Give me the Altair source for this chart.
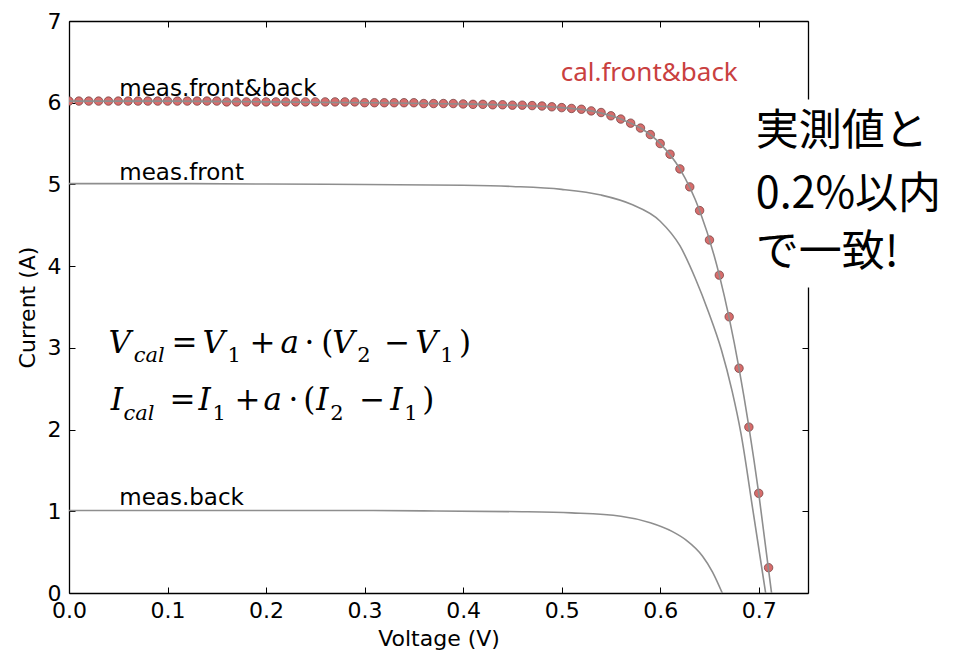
import altair as alt
import pandas as pd

# ---------------- data ----------------
cal_v = [0.00, 0.01, 0.02, 0.03, 0.04, 0.05, 0.06, 0.07, 0.08, 0.09,
         0.10, 0.11, 0.12, 0.13, 0.14, 0.15, 0.16, 0.17, 0.18, 0.19,
         0.20, 0.21, 0.22, 0.23, 0.24, 0.25, 0.26, 0.27, 0.28, 0.29,
         0.30, 0.31, 0.32, 0.33, 0.34, 0.35, 0.36, 0.37, 0.38, 0.39,
         0.40, 0.41, 0.42, 0.43, 0.44, 0.45, 0.46, 0.47, 0.48, 0.49,
         0.50, 0.51, 0.52, 0.53, 0.54, 0.55, 0.56, 0.57, 0.58, 0.59,
         0.60, 0.61, 0.62, 0.63, 0.64, 0.65, 0.66, 0.67, 0.68, 0.69,
         0.70, 0.71]
cal_i = [6.02, 6.02, 6.02, 6.02, 6.02, 6.02, 6.02, 6.02, 6.02, 6.02,
         6.02, 6.02, 6.02, 6.02, 6.02, 6.02, 6.01, 6.01, 6.01, 6.01,
         6.01, 6.01, 6.01, 6.01, 6.01, 6.01, 6.01, 6.01, 6.01, 6.01,
         6.00, 6.00, 6.00, 6.00, 6.00, 6.00, 5.99, 5.99, 5.99, 5.99,
         5.985, 5.98, 5.98, 5.975, 5.975, 5.97, 5.97, 5.965, 5.96, 5.95,
         5.94, 5.93, 5.92, 5.90, 5.88, 5.84, 5.80, 5.75, 5.69, 5.61,
         5.50, 5.37, 5.19, 4.97, 4.68, 4.32, 3.89, 3.38, 2.75, 2.03,
         1.22, 0.31]

fb_v = [0.0, 0.1, 0.2, 0.3, 0.4, 0.45, 0.5, 0.53, 0.56, 0.58, 0.60, 0.62,
        0.64, 0.66, 0.68, 0.70, 0.713]
fb_i = [6.02, 6.02, 6.01, 6.00, 5.985, 5.97, 5.94, 5.90, 5.80, 5.69, 5.50,
        5.19, 4.68, 3.89, 2.75, 1.22, 0.0]

front_v = [0.0, 0.1, 0.2, 0.3, 0.4, 0.45, 0.5, 0.54, 0.57, 0.60, 0.62,
           0.636, 0.649, 0.662, 0.673, 0.682, 0.694, 0.707]
front_i = [5.01, 5.01, 5.005, 5.0, 4.99, 4.975, 4.94, 4.87, 4.76, 4.55,
           4.25, 3.84, 3.44, 2.98, 2.47, 1.95, 1.02, 0.0]

back_v = [0.0, 0.1, 0.2, 0.3, 0.36, 0.46, 0.51, 0.56, 0.59, 0.612, 0.626,
          0.643, 0.653, 0.663]
back_i = [1.01, 1.01, 1.01, 1.01, 1.005, 0.995, 0.98, 0.94, 0.86, 0.754,
          0.65, 0.45, 0.26, 0.0]

x_ticks = [0.0, 0.1, 0.2, 0.3, 0.4, 0.5, 0.6, 0.7]
y_ticks = [0, 1, 2, 3, 4, 5, 6, 7]

meas_text = ["meas.front&back", "meas.front", "meas.back"]
meas_v = [0.051, 0.051, 0.051]
meas_i = [6.08, 5.06, 1.08]

cal_text = ["cal.front&back"]
cal_tv = [0.499]
cal_ti = [6.27]

jp_text = ["実測値と", "0.2%以内", "で一致!"]
jp_v = [0.697, 0.697, 0.697]
jp_i = [5.64, 4.87, 4.16]

# equation pieces: text, x (V), y (A), kind (m=main, s=subscript; i=italic, u=upright, c=centred dot)
eq_text = ["V", "cal", "=", "V", "1", "+", "a", "·", "(", "V", "2", "−", "V", "1", ")",
           "I", "cal", "=", "I", "1", "+", "a", "·", "(", "I", "2", "−", "I", "1", ")"]
eq_v = [0.0402, 0.0656, 0.1041, 0.1355, 0.1608, 0.1831, 0.2146, 0.2439, 0.2561, 0.2672,
        0.2926, 0.3199, 0.3514, 0.3767, 0.3959,
        0.0423, 0.0554, 0.1021, 0.1314, 0.1456, 0.1680, 0.1973, 0.2277, 0.2378, 0.2510,
        0.2652, 0.2946, 0.3260, 0.3402, 0.3585]
eq_i = [2.941, 2.831, 2.941, 2.941, 2.831, 2.941, 2.941, 2.941, 2.941, 2.941,
        2.831, 2.941, 2.941, 2.831, 2.941,
        2.244, 2.122, 2.244, 2.244, 2.122, 2.244, 2.244, 2.244, 2.244, 2.244,
        2.122, 2.244, 2.244, 2.122, 2.244]
eq_kind = ["mi", "si", "mu", "mi", "su", "mu", "mi", "mc", "mu", "mi", "su", "mu", "mi", "su", "mu",
           "mi", "si", "mu", "mi", "su", "mu", "mi", "mc", "mu", "mi", "su", "mu", "mi", "su", "mu"]

box_v = [0.685]
box_v2 = [0.95]
box_i = [3.74]
box_i2 = [6.04]

# ---------------- tables ----------------
lines_df = pd.concat([
    pd.DataFrame({"v": fb_v, "i": fb_i, "series": "front&back"}),
    pd.DataFrame({"v": front_v, "i": front_i, "series": "front"}),
    pd.DataFrame({"v": back_v, "i": back_i, "series": "back"}),
], ignore_index=True)
points_df = pd.DataFrame({"v": cal_v, "i": cal_i})
meas_df = pd.DataFrame({"t": meas_text, "v": meas_v, "i": meas_i})
cal_df = pd.DataFrame({"t": cal_text, "v": cal_tv, "i": cal_ti})
jp_df = pd.DataFrame({"t": jp_text, "v": jp_v, "i": jp_i})
eq_df = pd.DataFrame({"t": eq_text, "v": eq_v, "i": eq_i, "k": eq_kind})
box_df = pd.DataFrame({"v": box_v, "v2": box_v2, "i": box_i, "i2": box_i2})

xs = alt.Scale(domain=[0, 0.75], nice=False, zero=False)
ys = alt.Scale(domain=[0, 7], nice=False, zero=False)

FONT = "DejaVu Sans"
inward = {"expr": "-6"}

x_axis = alt.Axis(orient="bottom", values=x_ticks, format=".1f", title="Voltage (V)",
                  labelFont=FONT, labelFontSize=22, labelColor="black", labelPadding=13,
                  labelFlush=False, tickSize=inward, tickColor="black", tickWidth=1,
                  domainColor="black", domainWidth=1.3, grid=False,
                  titleFont=FONT, titleFontSize=22, titleFontWeight="normal", titleColor="black",
                  titleX=369.5, titleY=45, titleBaseline="middle", titleAlign="center")
y_axis = alt.Axis(orient="left", values=y_ticks, format="d", title="Current (A)",
                  labelFont=FONT, labelFontSize=22, labelColor="black", labelPadding=14,
                  labelFlush=False, tickSize=inward, tickColor="black", tickWidth=1,
                  domainColor="black", domainWidth=1.3, grid=False,
                  titleFont=FONT, titleFontSize=22, titleFontWeight="normal", titleColor="black",
                  titleX=-42, titleY=286, titleAngle=270, titleBaseline="middle", titleAlign="center")
x_axis_top = alt.Axis(orient="top", values=x_ticks, labels=False, title=None,
                      tickSize=inward, tickColor="black", tickWidth=1,
                      domainColor="black", domainWidth=1.3, grid=False)
y_axis_right = alt.Axis(orient="right", values=y_ticks, labels=False, title=None,
                        tickSize=inward, tickColor="black", tickWidth=1,
                        domainColor="black", domainWidth=1.3, grid=False)

box = alt.Chart(box_df).mark_rect(color="white").encode(
    x=alt.X("v:Q", scale=xs, axis=None), x2="v2:Q",
    y=alt.Y("i:Q", scale=ys, axis=None), y2="i2:Q")

points = alt.Chart(points_df).mark_point(
    filled=True, shape="circle", size=72, fill="#d76d6c", fillOpacity=1,
    stroke="#6b3a3a", strokeWidth=0.7, strokeOpacity=1, clip=True
).encode(
    x=alt.X("v:Q", scale=xs, axis=x_axis_top),
    y=alt.Y("i:Q", scale=ys, axis=y_axis_right))

lines = alt.Chart(lines_df).mark_line(
    color="#8e8e8e", strokeWidth=1.6, interpolate="monotone"
).encode(
    x=alt.X("v:Q", scale=xs, axis=x_axis),
    y=alt.Y("i:Q", scale=ys, axis=y_axis),
    detail="series:N")

def txt(df, **kw):
    return alt.Chart(df).mark_text(**kw).encode(
        x=alt.X("v:Q", scale=xs, axis=None),
        y=alt.Y("i:Q", scale=ys, axis=None),
        text="t:N")

meas = txt(meas_df, align="left", baseline="alphabetic", font=FONT, fontSize=23, color="black")
calt = txt(cal_df, align="left", baseline="alphabetic", font="Noto Sans", fontSize=26, color="#c9403f")
jp = txt(jp_df, align="left", baseline="middle", font="Noto Sans CJK JP", fontSize=43, color="black")

EQF = "DejaVu Serif"
eq_mi = txt(eq_df[eq_df.k == "mi"], align="left", baseline="alphabetic", font=EQF, fontSize=31,
            fontStyle="italic", color="black")
eq_mu = txt(eq_df[eq_df.k == "mu"], align="left", baseline="alphabetic", font=EQF, fontSize=31,
            color="black")
eq_mc = txt(eq_df[eq_df.k == "mc"], align="center", baseline="alphabetic", font=EQF, fontSize=31,
            color="black")
eq_si = txt(eq_df[eq_df.k == "si"], align="left", baseline="alphabetic", font=EQF, fontSize=21,
            fontStyle="italic", color="black")
eq_su = txt(eq_df[eq_df.k == "su"], align="left", baseline="alphabetic", font=EQF, fontSize=21,
            color="black")

chart = alt.layer(
    points, lines, box, meas, calt, jp, eq_mi, eq_mu, eq_mc, eq_si, eq_su
).resolve_axis(
    x="independent", y="independent"
).properties(
    width=739, height=572,
    autosize=alt.AutoSizeParams(type="none"),
    padding={"left": 61, "top": 13, "right": 147, "bottom": 60},
    background="white",
).configure_view(strokeWidth=0)

chart.save("out.html", embed_options={"renderer": "svg", "actions": False})
